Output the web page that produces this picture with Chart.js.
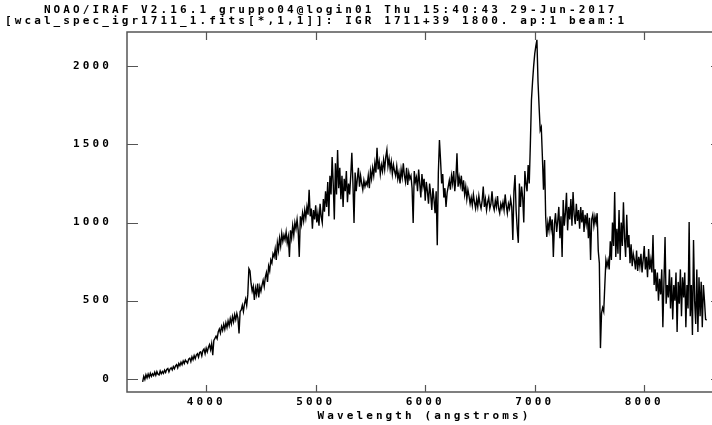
<!DOCTYPE html>
<html>
<head>
<meta charset="utf-8">
<script src="https://cdn.jsdelivr.net/npm/chart.js@4.4.1/dist/chart.umd.min.js"></script>
<style>
html, body { margin: 0; padding: 0; background: #fff; overflow: hidden; }
#wrap { width: 732px; height: 425px; }
</style>
</head>
<body>
<div id="wrap"><canvas id="spec" width="732" height="425"></canvas></div>
<script>
var titleLine1 = "    NOAO/IRAF V2.16.1 gruppo04@login01 Thu 15:40:43 29-Jun-2017";
var titleLine2 = "[wcal_spec_igr1711_1.fits[*,1,1]]: IGR 1711+39 1800. ap:1 beam:1";
var xTitle = "Wavelength (angstroms)";
var xTicks = [4000, 5000, 6000, 7000, 8000];
var yTicks = [0, 500, 1000, 1500, 2000];

var lambdaStart = 3420;
var lambdaStep = 10;
var flux = [
  -20, 15, -5, 25, 5, 30, 10, 35, 15, 32,           // 3420
  20, 42, 22, 45, 28, 24, 50, 32, 46, 34,           // 3520
  55, 40, 60, 66, 44, 62, 70, 56, 78, 64,           // 3620
  82, 90, 70, 98, 84, 106, 90, 114, 98, 120,        // 3720
  110, 100, 126, 132, 110, 140, 122, 148, 128, 152, // 3820
  160, 138, 168, 172, 146, 180, 190, 160, 196, 172, // 3920
  200, 218, 186, 225, 150, 245, 258, 272, 256, 300, // 4020
  318, 292, 335, 310, 348, 316, 358, 328, 370, 340, // 4120
  385, 352, 398, 364, 410, 378, 418, 388, 290, 430, // 4220
  440, 470, 430, 480, 510, 470, 540, 705, 690, 610, // 4320
  560, 590, 505, 580, 540, 610, 520, 590, 560, 600, // 4420
  630, 590, 650, 680, 620, 720, 690, 760, 740, 800, // 4520
  780, 830, 760, 870, 820, 900, 850, 930, 880, 920, // 4620
  890, 940, 870, 910, 780, 950, 900, 980, 920, 1000, // 4720
  960, 1020, 950, 780, 1040, 990, 1060, 1010, 1080, 1030, // 4820
  1100, 1050, 1210, 1040, 1090, 960, 1080, 1020, 1110, 1000, // 4920
  1060, 980, 1120, 1040, 1000, 1150, 1070, 1200, 1100, 1260, // 5020
  1040, 1300, 1180, 1420, 1250, 1020, 1380, 1180, 1465, 1220, // 5120
  1350, 1150, 1300, 1100, 1280, 1200, 1330, 1130, 1250, 1180, // 5220
  1300, 1447, 1250, 997, 1320, 1200, 1280, 1350, 1230, 1300,  // 5320
  1250, 1210, 1270, 1230, 1260, 1240, 1300, 1220, 1330, 1280, // 5420
  1350, 1300, 1380, 1320, 1478, 1340, 1390, 1310, 1370, 1330, // 5520
  1400, 1340, 1420, 1465, 1360, 1410, 1340, 1390, 1310, 1370, // 5620
  1330, 1300, 1360, 1280, 1320, 1250, 1340, 1290, 1380, 1300, // 5720
  1260, 1350, 1240, 1320, 1280, 1300, 1220, 997, 1330, 1260,  // 5820
  1290, 1200, 1340, 1250, 1160, 1310, 1230, 1280, 1140, 1260, // 5920
  1200, 1120, 1250, 1180, 1080, 1220, 1150, 1060, 1200, 855,  // 6020
  1320, 1528, 1400, 1250, 1310, 1160, 1220, 1100, 1190, 1230, // 6120
  1270, 1210, 1300, 1250, 1330, 1200, 1280, 1443, 1230, 1290, // 6220
  1240, 1300, 1200, 1270, 1180, 1230, 1150, 1210, 1170, 1120, // 6320
  1160, 1110, 1180, 1130, 1090, 1150, 1100, 1170, 1120, 1090, // 6420
  1140, 1230, 1100, 1150, 1080, 1130, 1160, 1090, 1120, 1200, // 6520
  1110, 1080, 1140, 1100, 1170, 1090, 1060, 1120, 1090, 1130, // 6620
  1080, 1180, 1110, 1060, 1120, 1090, 1150, 1100, 888, 1200,  // 6720
  1304, 1080, 960, 870, 1250, 1100, 1230, 1160, 1000, 1330,   // 6820
  1250, 1200, 1368, 1250, 1500, 1785, 1900, 2000, 2080, 2130, // 6920
  2170, 1900, 1740, 1590, 1610, 1420, 1210, 1400, 1035, 907,  // 7020
  1000, 950, 1040, 960, 1020, 780, 990, 1060, 940, 1010,      // 7120
  1100, 900, 1040, 780, 1144, 980, 1060, 1190, 950, 1100,     // 7220
  1020, 1150, 980, 1195, 1050, 990, 1120, 1010, 1080, 960,    // 7320
  1100, 1000, 1080, 940, 1050, 990, 1060, 900, 1030, 760,     // 7420
  1020, 1050, 980, 1040, 1000, 1060, 820, 740, 196, 420,      // 7520
  455, 430, 600, 760, 720, 760, 700, 880, 760, 1000,          // 7620
  850, 1195, 780, 960, 800, 1080, 760, 1000, 850, 1130,       // 7720
  900, 780, 1050, 840, 920, 740, 860, 720, 800, 760,          // 7820
  700, 820, 690, 780, 720, 800, 680, 760, 850, 700,           // 7920
  780, 650, 830, 700, 760, 680, 920, 600, 700, 560,           // 8020
  680, 500, 640, 540, 700, 330, 620, 907, 480, 600,           // 8120
  520, 700, 450, 650, 380, 600, 500, 680, 300, 620,           // 8220
  480, 700, 400, 650, 520, 680, 330, 600, 450, 1003,          // 8320
  400, 600, 280, 888, 500, 350, 700, 300, 650, 400,           // 8420
  620, 330, 600, 500, 380, 375                                // 8520
];

var points = flux.map(function(v, i) {
  return { x: lambdaStart + i * lambdaStep, y: v };
});

var monoFont = { family: "'DejaVu Sans Mono', monospace", size: 11, weight: 'bold', lineHeight: 1 };
var spacing = '3.1px';

// IRAF style text has wide letter spacing
var spacingPlugin = {
  id: 'spacing',
  beforeUpdate: function(chart) { chart.ctx.letterSpacing = spacing; },
  beforeDraw: function(chart) { chart.ctx.letterSpacing = spacing; }
};

// box round the plot with inward ticks on all four sides
var framePlugin = {
  id: 'frame',
  afterDraw: function(chart) {
    var a = chart.chartArea, ctx = chart.ctx;
    var xs = chart.scales.x, ys = chart.scales.y;
    ctx.save();
    ctx.strokeStyle = '#555';
    ctx.lineWidth = 1.5;
    ctx.strokeRect(a.left, a.top, a.right - a.left, a.bottom - a.top);
    ctx.lineWidth = 1.2;
    ctx.beginPath();
    xTicks.forEach(function(v) {
      var px = Math.round(xs.getPixelForValue(v)) + 0.5;
      ctx.moveTo(px, a.bottom); ctx.lineTo(px, a.bottom - 7);
      ctx.moveTo(px, a.top); ctx.lineTo(px, a.top + 8);
    });
    yTicks.forEach(function(v) {
      var py = Math.round(ys.getPixelForValue(v)) + 0.5;
      ctx.moveTo(a.left, py); ctx.lineTo(a.left + 11, py);
      ctx.moveTo(a.right, py); ctx.lineTo(a.right - 11, py);
    });
    ctx.stroke();
    ctx.restore();
  }
};

var chart = new Chart(document.getElementById('spec').getContext('2d'), {
  type: 'line',
  data: {
    datasets: [{
      data: points,
      borderColor: '#000',
      borderWidth: 1.4,
      pointRadius: 0,
      tension: 0,
      fill: false
    }]
  },
  options: {
    responsive: false,
    animation: false,
    devicePixelRatio: 1,
    layout: { padding: { left: 5, right: 10, top: 0, bottom: 0 } },
    plugins: {
      legend: { display: false },
      tooltip: { enabled: false },
      title: {
        display: true,
        text: titleLine1,
        align: 'start',
        color: '#000',
        font: monoFont,
        padding: { top: 5, bottom: 0 }
      },
      subtitle: {
        display: true,
        text: titleLine2,
        align: 'start',
        color: '#000',
        font: monoFont,
        padding: { top: 0, bottom: 5 }
      }
    },
    scales: {
      x: {
        type: 'linear',
        min: 3277,
        max: 8710,
        grid: { display: false, drawTicks: false },
        border: { display: false },
        afterBuildTicks: function(scale) {
          scale.ticks = xTicks.map(function(v) { return { value: v }; });
        },
        afterFit: function(scale) { scale.height = 33; },
        ticks: {
          color: '#000',
          font: monoFont,
          padding: 5,
          maxRotation: 0,
          callback: function(v) { return String(v); }
        },
        title: {
          display: true,
          text: xTitle,
          color: '#000',
          font: monoFont,
          padding: { top: 0, bottom: 3 }
        }
      },
      y: {
        min: -85,
        max: 2220,
        grid: { display: false, drawTicks: false },
        border: { display: false },
        afterBuildTicks: function(scale) {
          scale.ticks = yTicks.map(function(v) { return { value: v }; });
        },
        afterFit: function(scale) { scale.width = 122; },
        ticks: {
          color: '#000',
          font: monoFont,
          padding: 15,
          callback: function(v) { return String(v); }
        }
      }
    }
  },
  plugins: [spacingPlugin, framePlugin]
});
</script>
</body>
</html>
